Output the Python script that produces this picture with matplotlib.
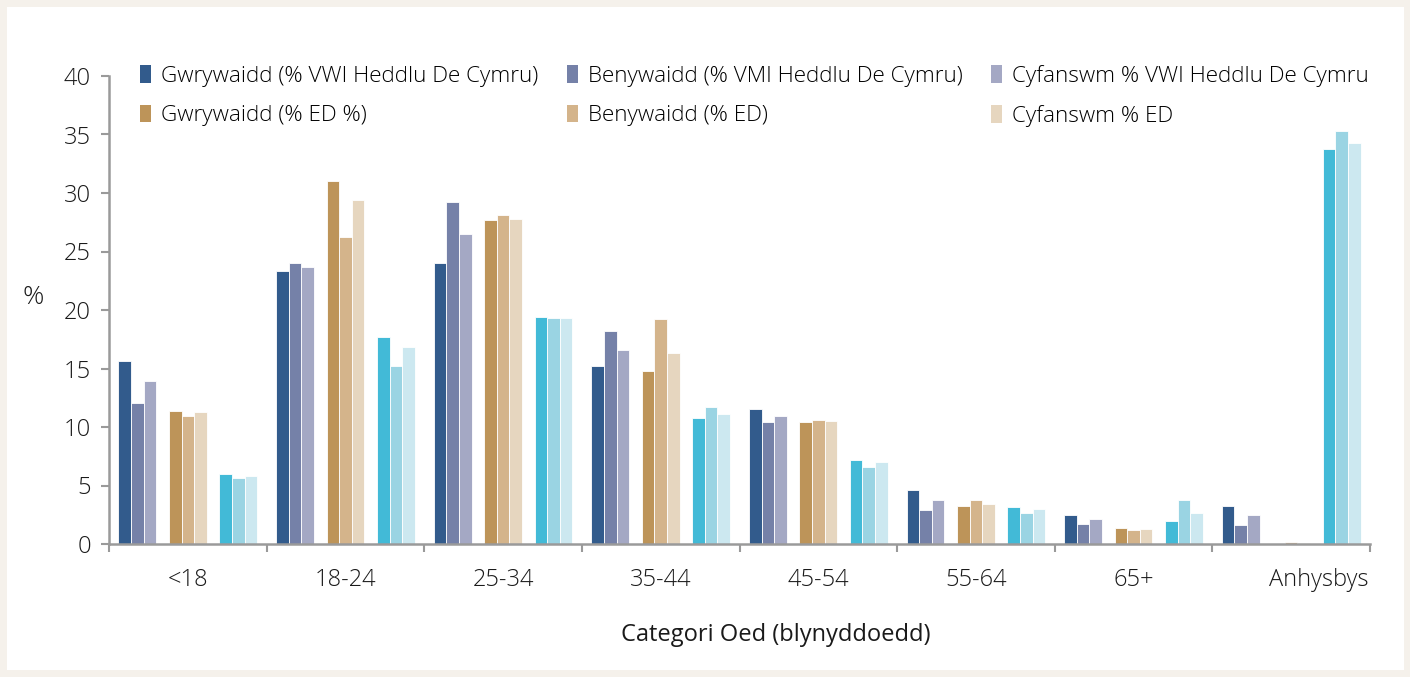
import matplotlib.pyplot as plt
import matplotlib.transforms as mtrans
import numpy as np
from matplotlib.patches import Patch, Rectangle

plt.rcParams['font.family'] = ['Open Sans', 'DejaVu Sans']
plt.rcParams['font.weight'] = 'light'

categories = ['<18', '18-24', '25-34', '35-44', '45-54', '55-64', '65+', 'Anhysbys']

# VWI Heddlu De Cymru
vwi_male = [15.6, 23.3, 24.0, 15.2, 11.5, 4.6, 2.5, 3.25]
vwi_female = [12.05, 24.0, 29.2, 18.2, 10.4, 2.9, 1.7, 1.6]
vwi_total = [13.9, 23.7, 26.5, 16.6, 10.9, 3.75, 2.1, 2.5]
# ED
ed_male = [11.4, 31.0, 27.7, 14.8, 10.4, 3.25, 1.4, 0.0]
ed_female = [10.9, 26.2, 28.1, 19.2, 10.6, 3.75, 1.2, 0.15]
ed_total = [11.3, 29.4, 27.8, 16.3, 10.5, 3.4, 1.3, 0.1]
# third (unlabelled) set
oth_male = [6.0, 17.7, 19.4, 10.8, 7.2, 3.15, 2.0, 33.8]
oth_female = [5.6, 15.2, 19.3, 11.7, 6.6, 2.65, 3.75, 35.3]
oth_total = [5.85, 16.85, 19.3, 11.1, 7.0, 3.0, 2.65, 34.3]

labels = ['Gwrywaidd (% VWI Heddlu De Cymru)', 'Benywaidd (% VMI Heddlu De Cymru)',
          'Cyfanswm % VWI Heddlu De Cymru', 'Gwrywaidd (% ED %)', 'Benywaidd (% ED)',
          'Cyfanswm % ED']

series = [vwi_male, vwi_female, vwi_total, ed_male, ed_female, ed_total,
          oth_male, oth_female, oth_total]
colors = ['#325b8c', '#7581a8', '#a4a8c4', '#bd9459', '#d4b48b', '#e6d6bf',
          '#42bad7', '#9ad4e3', '#cce8f0']
slots = [0, 1, 2, 4, 5, 6, 8, 9, 10]

fig = plt.figure(figsize=(14.1, 6.77), dpi=100, facecolor='#f5f1eb')
fig.patches.append(Rectangle((7 / 1410, 7 / 677), 1397 / 1410, 663 / 677,
                             transform=fig.transFigure, facecolor='white',
                             edgecolor='none', zorder=-10))
ax = fig.add_axes([109 / 1410, 1 - 544 / 677, 1261 / 1410, 468 / 677])
ax.set_facecolor('none')

x = np.arange(len(categories))
w = 0.08
for vals, c, s in zip(series, colors, slots):
    ax.bar(x + (s - 5) * w, vals, width=w, color=c, edgecolor='white', linewidth=0.6)

ax.set_xlim(-0.5, 7.5)
ax.set_ylim(0, 40)
ax.set_yticks(range(0, 41, 5))
ax.set_xticks(np.arange(-0.5, 8, 1))
ax.set_xticklabels([])
ax.set_xticks(x, minor=True)
ax.set_xticklabels(categories, minor=True)
ax.tick_params(axis='x', which='major', length=6, color='#9a9a9a', width=1.5)
ax.tick_params(axis='x', which='minor', length=0, pad=17, labelsize=17, labelcolor='#1a1a1a')
ax.tick_params(axis='y', length=6, color='#9a9a9a', width=1.5, pad=7, labelsize=17,
               labelcolor='#1a1a1a')
# last label sits flush with the end of the axis in the original
last = ax.get_xticklabels(minor=True)[-1]
last.set_transform(last.get_transform() + mtrans.ScaledTranslation(28 / 100, 0, fig.dpi_scale_trans))
for side in ['top', 'right']:
    ax.spines[side].set_visible(False)
for side in ['left', 'bottom']:
    ax.spines[side].set_color('#9a9a9a')
    ax.spines[side].set_linewidth(1.8)

ax.set_xlabel('Categori Oed (blynyddoedd)', fontsize=17, color='#1a1a1a', va='center')
ax.xaxis.set_label_coords((776 - 109) / 1261, (544 - 635) / 468)
fig.text(22 / 1410, 1 - 297 / 677, '%', fontsize=19, color='#1a1a1a', va='center')

handles = [Patch(facecolor=c) for c in colors[:6]]
order = [0, 3, 1, 4, 2, 5]
fig.legend([handles[i] for i in order], [labels[i] for i in order], ncol=3,
           loc='upper left', bbox_to_anchor=(140 / 1410, 1 - 65 / 677), frameon=False,
           fontsize=16.2, handlelength=0.5, handleheight=0.85, handletextpad=0.45,
           columnspacing=1.25, labelspacing=0.78, borderaxespad=0, borderpad=0)

fig.savefig('out.png', dpi=100, facecolor=fig.get_facecolor())
